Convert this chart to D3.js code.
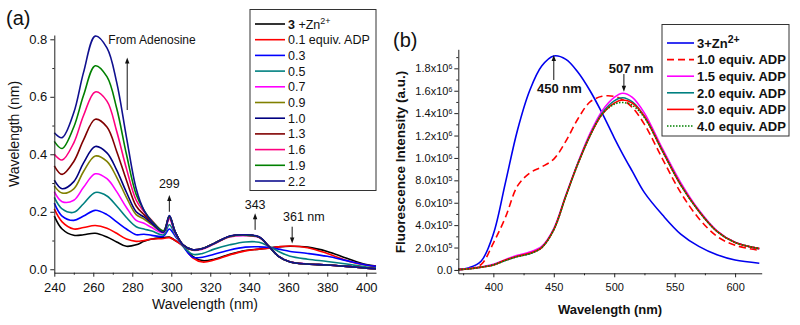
<!DOCTYPE html>
<html>
<head>
<meta charset="utf-8">
<script src="https://cdn.jsdelivr.net/npm/d3@7"></script>
<style>
  body { margin: 0; background: #fff; }
  svg { display: block; }
</style>
</head>
<body>
<div id="root"></div>
<script>
// ---------- panel (a): absorption titration ----------
const wlA = [240, 244, 250, 255, 261, 267, 272, 277, 282, 286, 290, 296, 299, 302, 306, 311, 316, 322, 330, 338, 345, 350, 355, 361, 370, 380, 390, 400, 405];

const absZn  = [0.185, 0.14, 0.118, 0.12, 0.125, 0.112, 0.095, 0.08, 0.085, 0.097, 0.105, 0.11, 0.112, 0.1, 0.082, 0.045, 0.03, 0.035, 0.052, 0.065, 0.07, 0.074, 0.078, 0.08, 0.077, 0.062, 0.038, 0.016, 0.011];
const abs01  = [0.21, 0.165, 0.14, 0.145, 0.152, 0.143, 0.125, 0.105, 0.097, 0.1, 0.105, 0.107, 0.11, 0.1, 0.08, 0.04, 0.025, 0.032, 0.05, 0.064, 0.07, 0.073, 0.078, 0.081, 0.075, 0.055, 0.03, 0.014, 0.01];
const abs03  = [0.23, 0.185, 0.17, 0.185, 0.205, 0.19, 0.165, 0.14, 0.12, 0.122, 0.118, 0.115, 0.14, 0.115, 0.08, 0.042, 0.042, 0.052, 0.067, 0.077, 0.078, 0.076, 0.07, 0.062, 0.055, 0.045, 0.03, 0.015, 0.01];
const abs05  = [0.25, 0.21, 0.198, 0.228, 0.267, 0.255, 0.22, 0.18, 0.148, 0.14, 0.133, 0.12, 0.155, 0.12, 0.08, 0.052, 0.055, 0.07, 0.085, 0.095, 0.094, 0.08, 0.062, 0.045, 0.035, 0.027, 0.018, 0.008, 0.005];
const abs07  = [0.27, 0.235, 0.24, 0.285, 0.332, 0.315, 0.27, 0.215, 0.17, 0.16, 0.145, 0.127, 0.175, 0.125, 0.083, 0.066, 0.07, 0.088, 0.112, 0.117, 0.11, 0.08, 0.046, 0.026, 0.019, 0.015, 0.01, 0.004, 0.002];
const abs09  = [0.29, 0.265, 0.28, 0.34, 0.394, 0.375, 0.32, 0.25, 0.19, 0.175, 0.155, 0.13, 0.18, 0.13, 0.084, 0.067, 0.071, 0.089, 0.113, 0.118, 0.111, 0.08, 0.045, 0.025, 0.018, 0.015, 0.01, 0.004, 0.002];
const abs10  = [0.31, 0.28, 0.305, 0.37, 0.427, 0.405, 0.345, 0.268, 0.2, 0.182, 0.16, 0.13, 0.182, 0.13, 0.085, 0.068, 0.072, 0.09, 0.115, 0.119, 0.112, 0.08, 0.045, 0.025, 0.018, 0.015, 0.01, 0.004, 0.002];
const abs13  = [0.36, 0.33, 0.375, 0.45, 0.522, 0.495, 0.41, 0.31, 0.22, 0.19, 0.165, 0.132, 0.183, 0.13, 0.085, 0.068, 0.072, 0.09, 0.115, 0.119, 0.112, 0.08, 0.045, 0.025, 0.018, 0.015, 0.01, 0.004, 0.002];
const abs16  = [0.40, 0.38, 0.44, 0.535, 0.617, 0.585, 0.48, 0.35, 0.24, 0.2, 0.17, 0.133, 0.185, 0.13, 0.085, 0.068, 0.072, 0.09, 0.115, 0.119, 0.112, 0.08, 0.045, 0.025, 0.018, 0.015, 0.01, 0.004, 0.002];
const abs19  = [0.445, 0.42, 0.495, 0.605, 0.708, 0.67, 0.56, 0.40, 0.26, 0.205, 0.168, 0.134, 0.185, 0.13, 0.085, 0.068, 0.072, 0.09, 0.115, 0.119, 0.112, 0.08, 0.045, 0.025, 0.018, 0.015, 0.01, 0.004, 0.002];
const abs22  = [0.475, 0.458, 0.545, 0.685, 0.811, 0.77, 0.65, 0.46, 0.28, 0.205, 0.165, 0.128, 0.187, 0.13, 0.085, 0.068, 0.072, 0.09, 0.116, 0.12, 0.113, 0.08, 0.045, 0.025, 0.018, 0.015, 0.01, 0.004, 0.002];

const labelsA = ['3 +Zn^2+', '0.1 equiv. ADP', '0.3', '0.5', '0.7', '0.9', '1.0', '1.3', '1.6', '1.9', '2.2'];
const colorsA = ['#000000', '#ff0000', '#0000ff', '#008080', '#ff00ff', '#808000', '#000080', '#800000', '#ff0080', '#008000', '#10108f'];
const seriesA = [absZn, abs01, abs03, abs05, abs07, abs09, abs10, abs13, abs16, abs19, abs22];

const xTicksA = [240, 260, 280, 300, 320, 340, 360, 380, 400];
const xMinorA = [250, 270, 290, 310, 330, 350, 370, 390];
const yTicksA = [0, 0.2, 0.4, 0.6, 0.8];
const yMinorA = [0.1, 0.3, 0.5, 0.7];

// ---------- panel (b): fluorescence (values in units of 10^6) ----------
const wlB = [371, 380, 390, 400, 410, 420, 430, 440, 450, 460, 470, 480, 490, 500, 507, 515, 525, 540, 555, 570, 585, 600, 620];

const flZn  = [0.005, 0.02, 0.08, 0.32, 0.78, 1.25, 1.6, 1.82, 1.91, 1.88, 1.765, 1.6, 1.4, 1.18, 1.035, 0.88, 0.69, 0.49, 0.32, 0.21, 0.135, 0.088, 0.06];
const fl10  = [0.005, 0.01, 0.05, 0.24, 0.47, 0.75, 0.865, 0.92, 0.99, 1.15, 1.35, 1.5, 1.55, 1.55, 1.52, 1.45, 1.3, 0.99, 0.69, 0.46, 0.3, 0.22, 0.175];
const fl15  = [0.003, 0.012, 0.028, 0.05, 0.092, 0.13, 0.16, 0.21, 0.37, 0.67, 0.96, 1.22, 1.42, 1.54, 1.577, 1.54, 1.4, 1.08, 0.78, 0.535, 0.35, 0.248, 0.19];
const fl20  = [0.003, 0.01, 0.025, 0.045, 0.085, 0.12, 0.145, 0.2, 0.36, 0.66, 0.95, 1.2, 1.4, 1.51, 1.538, 1.5, 1.37, 1.06, 0.76, 0.525, 0.345, 0.245, 0.19];
const fl30  = [0.003, 0.01, 0.025, 0.045, 0.088, 0.122, 0.148, 0.2, 0.36, 0.66, 0.95, 1.2, 1.39, 1.49, 1.517, 1.49, 1.37, 1.06, 0.76, 0.525, 0.345, 0.245, 0.19];
const fl40  = [0.003, 0.01, 0.025, 0.045, 0.085, 0.12, 0.145, 0.2, 0.36, 0.66, 0.95, 1.2, 1.39, 1.48, 1.495, 1.47, 1.36, 1.06, 0.76, 0.525, 0.345, 0.245, 0.19];

const labelsB = ['3+Zn^2+', '1.0 equiv. ADP', '1.5 equiv. ADP', '2.0 equiv. ADP', '3.0 equiv. ADP', '4.0 equiv. ADP'];
const colorsB = ['#0000ee', '#ff0000', '#ff00ff', '#008080', '#ff0000', '#008000'];
const dashesB = [null, '7,4', null, null, null, '1.5,1.5'];
const seriesB = [flZn, fl10, fl15, fl20, fl30, fl40];

const xTicksB = [400, 450, 500, 550, 600];
const xMinorB = [375, 425, 475, 525, 575];
const yTicksB = [0, 0.2, 0.4, 0.6, 0.8, 1.0, 1.2, 1.4, 1.6, 1.8];
const yTickLabelsB = ['0.0', '2.0x10^5', '4.0x10^5', '6.0x10^5', '8.0x10^5', '1.0x10^6', '1.2x10^6', '1.4x10^6', '1.6x10^6', '1.8x10^6'];
const yMinorB = [0.1, 0.3, 0.5, 0.7, 0.9, 1.1, 1.3, 1.5, 1.7, 1.9];

const FONT = '"Liberation Sans", Arial, Helvetica, sans-serif';

function richText(sel, str, supSize) {
  const parts = str.split('^');
  sel.text(null);
  sel.append('tspan').text(parts[0]);
  if (parts.length > 1) {
    sel.append('tspan').attr('dy', '-0.45em').attr('font-size', supSize).text(parts[1]);
  }
}

function drawAxes(g, x, y, cfg) {
  const [y0] = y.range();
  const [x0] = x.range();

  const xAxis = g.append('g')
    .attr('transform', `translate(0,${y0})`)
    .call(d3.axisBottom(x).tickValues(cfg.xTicks).tickSize(4).tickSizeOuter(0).tickPadding(6));
  g.append('g')
    .attr('transform', `translate(0,${y0})`)
    .call(d3.axisBottom(x).tickValues(cfg.xMinor).tickSize(2).tickFormat(''))
    .select('.domain').remove();

  const yAxis = g.append('g')
    .attr('transform', `translate(${x0},0)`)
    .call(d3.axisLeft(y).tickValues(cfg.yTicks).tickSize(4).tickSizeOuter(0)
      .tickPadding(cfg.yPad).tickFormat(cfg.yFormat));
  g.append('g')
    .attr('transform', `translate(${x0},0)`)
    .call(d3.axisLeft(y).tickValues(cfg.yMinor).tickSize(2).tickFormat(''))
    .select('.domain').remove();

  g.selectAll('.domain, .tick line').attr('stroke', '#222');
  [xAxis, yAxis].forEach(a => a.selectAll('text')
    .attr('font-family', FONT)
    .attr('font-size', cfg.fontSize)
    .attr('fill', '#111'));
  return { xAxis, yAxis };
}

function arrow(g, x1, y1, x2, y2) {
  g.append('line')
    .attr('x1', x1).attr('y1', y1).attr('x2', x2).attr('y2', y2 + (y2 < y1 ? 4 : -4))
    .attr('stroke', '#111').attr('stroke-width', 1);
  const dir = y2 < y1 ? 1 : -1;
  g.append('path')
    .attr('d', `M${x2},${y2} L${x2 - 2.2},${y2 + dir * 6} L${x2 + 2.2},${y2 + dir * 6} Z`)
    .attr('fill', '#111');
}

const svg = d3.select('#root').append('svg')
  .attr('width', 800).attr('height', 325)
  .attr('font-family', FONT);

// ================= panel (a) =================
const xA = d3.scaleLinear().domain([240, 405]).range([54.3, 376]);
const yA = d3.scaleLinear().domain([-0.012, 0.815]).range([272.7, 35]);

const gA = svg.append('g');

const lineA = d3.line().curve(d3.curveCatmullRom.alpha(0.5));
seriesA.forEach((vals, i) => {
  gA.append('path')
    .attr('d', lineA(vals.map((v, k) => [xA(wlA[k]), yA(v)])))
    .attr('fill', 'none')
    .attr('stroke', colorsA[i])
    .attr('stroke-width', 1.6)
    .attr('stroke-linejoin', 'round');
});

drawAxes(gA, xA, yA, {
  xTicks: xTicksA, xMinor: xMinorA, yTicks: yTicksA, yMinor: yMinorA,
  yPad: 3, fontSize: 13, yFormat: d3.format('.1f')
});

gA.append('text').attr('x', 205).attr('y', 309).attr('text-anchor', 'middle')
  .attr('font-size', 14).attr('fill', '#111').text('Wavelength (nm)');
gA.append('text').attr('transform', 'translate(19,134) rotate(-90)').attr('text-anchor', 'middle')
  .attr('font-size', 14).attr('fill', '#111').text('Wavelength (nm)');
gA.append('text').attr('x', 6).attr('y', 25).attr('font-size', 20).attr('fill', '#111').text('(a)');

// annotations
gA.append('text').attr('x', xA(267.7)).attr('y', yA(0.783)).attr('font-size', 12).attr('fill', '#111').text('From Adenosine');
arrow(gA, xA(277.4), yA(0.554), xA(277.4), yA(0.737));
gA.append('text').attr('x', xA(299)).attr('y', yA(0.284)).attr('text-anchor', 'middle').attr('font-size', 12.5).attr('fill', '#111').text('299');
arrow(gA, xA(299), yA(0.2), xA(299), yA(0.258));
gA.append('text').attr('x', xA(343)).attr('y', yA(0.208)).attr('text-anchor', 'middle').attr('font-size', 12.5).attr('fill', '#111').text('343');
arrow(gA, xA(343), yA(0.137), xA(343), yA(0.195));
gA.append('text').attr('x', xA(368)).attr('y', yA(0.168)).attr('text-anchor', 'middle').attr('font-size', 12.5).attr('fill', '#111').text('361 nm');
arrow(gA, xA(362), yA(0.148), xA(362), yA(0.09));

// legend (a)
const legA = gA.append('g');
legA.append('rect').attr('x', 250).attr('y', 9.5).attr('width', 126).attr('height', 181)
  .attr('fill', '#fff').attr('stroke', '#333').attr('stroke-width', 1);
labelsA.forEach((lab, i) => {
  const cy = 24 + i * 15.7;
  legA.append('line').attr('x1', 255).attr('x2', 285).attr('y1', cy).attr('y2', cy)
    .attr('stroke', colorsA[i]).attr('stroke-width', 1.6);
  const t = legA.append('text').attr('x', 288).attr('y', cy + 4.5).attr('font-size', 12.5).attr('fill', '#111');
  if (i === 0) {
    const [num, rest] = [lab.slice(0, 1), lab.slice(1)];
    t.append('tspan').attr('font-weight', 'bold').text(num);
    const p = rest.split('^');
    t.append('tspan').text(p[0]);
    t.append('tspan').attr('dy', '-0.45em').attr('font-size', 9).text(p[1]);
  } else {
    t.text(lab);
  }
});

// ================= panel (b) =================
const xB = d3.scaleLinear().domain([371, 622]).range([458.3, 761.7]);
const yB = d3.scaleLinear().domain([-0.03, 1.97]).range([273.3, 49.3]);

const gB = svg.append('g');

const lineB = d3.line().curve(d3.curveCatmullRom.alpha(0.5));
seriesB.forEach((vals, i) => {
  gB.append('path')
    .attr('d', lineB(vals.map((v, k) => [xB(wlB[k]), yB(v)])))
    .attr('fill', 'none')
    .attr('stroke', colorsB[i])
    .attr('stroke-width', 1.6)
    .attr('stroke-dasharray', dashesB[i]);
});

const axB = drawAxes(gB, xB, yB, {
  xTicks: xTicksB, xMinor: xMinorB, yTicks: yTicksB, yMinor: yMinorB,
  yPad: 2, fontSize: 11, yFormat: (d, i) => yTickLabelsB[i]
});
axB.yAxis.selectAll('.tick text').each(function (d, i) {
  richText(d3.select(this), yTickLabelsB[i], 7);
});

gB.append('text').attr('x', 610).attr('y', 313.5).attr('text-anchor', 'middle')
  .attr('font-size', 13).attr('font-weight', 'bold').attr('fill', '#111').text('Wavelength (nm)');
gB.append('text').attr('transform', 'translate(405,162) rotate(-90)').attr('text-anchor', 'middle')
  .attr('font-size', 13.5).attr('font-weight', 'bold').attr('fill', '#111').text('Fluorescence Intensity (a.u.)');
gB.append('text').attr('x', 393).attr('y', 47).attr('font-size', 20).attr('fill', '#111').text('(b)');

gB.append('text').attr('x', xB(454.7)).attr('y', yB(1.584)).attr('text-anchor', 'middle')
  .attr('font-size', 13).attr('font-weight', 'bold').attr('fill', '#111').text('450 nm');
arrow(gB, xB(450), yB(1.696), xB(450), yB(1.918));
gB.append('text').attr('x', xB(514)).attr('y', yB(1.762)).attr('text-anchor', 'middle')
  .attr('font-size', 13).attr('font-weight', 'bold').attr('fill', '#111').text('507 nm');
arrow(gB, xB(508), yB(1.749), xB(508), yB(1.591));

// legend (b)
const legB = gB.append('g');
legB.append('rect').attr('x', 662).attr('y', 24.5).attr('width', 127).attr('height', 111.5)
  .attr('fill', '#fff').attr('stroke', '#333').attr('stroke-width', 1);
labelsB.forEach((lab, i) => {
  const cy = 43 + i * 16.6;
  legB.append('line').attr('x1', 667).attr('x2', 694).attr('y1', cy).attr('y2', cy)
    .attr('stroke', colorsB[i]).attr('stroke-width', 1.6)
    .attr('stroke-dasharray', dashesB[i]);
  const t = legB.append('text').attr('x', 697).attr('y', cy + 4.7)
    .attr('font-size', 13).attr('font-weight', 'bold').attr('fill', '#111');
  richText(t, lab, 10.5);
});
</script>
</body>
</html>
